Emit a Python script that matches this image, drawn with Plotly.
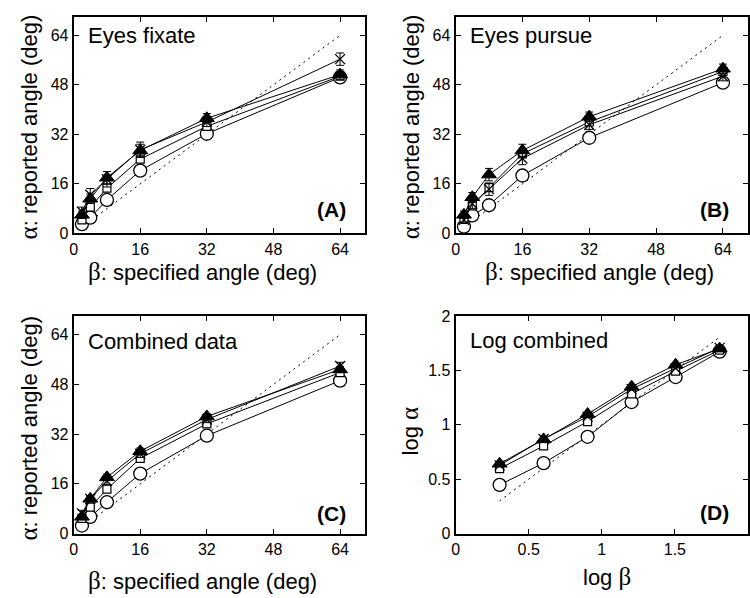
import plotly.graph_objects as go

# ---------------- data ----------------
beta = [2, 4, 8, 16, 32, 64]
log_beta = [0.301, 0.602, 0.903, 1.204, 1.505, 1.806]

# Panel A: eyes fixate
A_circle = [3.0, 5.1, 10.8, 20.3, 32.2, 50.4]
A_square = [4.4, 8.5, 14.6, 24.0, 34.6, 50.8]
A_cross = [7.0, 12.5, 17.5, 27.0, 36.0, 56.3]
A_cross_err = [1.5, 2.0, 2.5, 2.5, 1.5, 2.0]
A_tri = [6.0, 11.2, 18.0, 26.8, 37.2, 51.3]
A_tri_err = [1.2, 1.5, 2.0, 2.0, 1.5, 1.5]

# Panel B: eyes pursue
B_circle = [2.2, 5.8, 9.1, 18.7, 30.9, 48.7]
B_square = [4.9, 8.9, 14.8, 25.7, 36.0, 52.3]
B_cross = [4.4, 9.6, 14.3, 24.2, 35.1, 50.8]
B_cross_err = [1.2, 1.5, 2.0, 2.0, 1.5, 1.5]
B_tri = [6.0, 11.7, 19.0, 26.8, 37.7, 53.2]
B_tri_err = [1.2, 1.5, 2.0, 2.0, 1.5, 1.5]

# Panel C: combined data
C_circle = [2.6, 5.4, 10.1, 19.3, 31.5, 49.2]
C_square = [4.9, 8.5, 14.3, 24.2, 35.3, 51.8]
C_cross = [6.5, 11.2, 16.9, 25.7, 36.7, 53.9]
C_cross_err = [1.0, 1.0, 1.2, 1.2, 1.0, 1.2]
C_tri = [5.4, 11.2, 18.1, 26.5, 37.7, 52.8]
C_tri_err = [0.8, 0.8, 1.0, 1.0, 0.8, 1.0]

# Panel D: log combined
D_circle = [0.448, 0.648, 0.89, 1.209, 1.439, 1.672]
D_square = [0.597, 0.806, 1.03, 1.284, 1.493, 1.687]
D_cross = [0.627, 0.87, 1.075, 1.328, 1.52, 1.707]
D_tri = [0.642, 0.866, 1.099, 1.35, 1.552, 1.70]

lin_ticks = [0, 16, 32, 48, 64]
log_ticks = [0, 0.5, 1, 1.5, 2]
log_ticklabels = ["0", "0.5", "1", "1.5", "2"]

panel_titles = ["Eyes fixate", "Eyes pursue", "Combined data", "Log combined"]
panel_letters = ["(A)", "(B)", "(C)", "(D)"]

# ---------------- figure ----------------
FONT = "Liberation Sans, Arial, sans-serif"
SERIF = "Liberation Serif, Times New Roman, serif"
fig = go.Figure()

panels = [
    dict(xa="x", ya="y", x=beta, circ=A_circle, sq=A_square, cr=A_cross, cre=A_cross_err, tr=A_tri, tre=A_tri_err, ident=beta),
    dict(xa="x2", ya="y2", x=beta, circ=B_circle, sq=B_square, cr=B_cross, cre=B_cross_err, tr=B_tri, tre=B_tri_err, ident=beta),
    dict(xa="x3", ya="y3", x=beta, circ=C_circle, sq=C_square, cr=C_cross, cre=C_cross_err, tr=C_tri, tre=C_tri_err, ident=beta),
    dict(xa="x4", ya="y4", x=log_beta, circ=D_circle, sq=D_square, cr=D_cross, cre=None, tr=D_tri, tre=None, ident=log_beta),
]

for p in panels:
    fig.add_trace(go.Scatter(x=p["ident"], y=p["ident"], mode="lines",
                             line=dict(color="black", width=1, dash="2px,4px"),
                             xaxis=p["xa"], yaxis=p["ya"], showlegend=False))
    fig.add_trace(go.Scatter(x=p["x"], y=p["circ"], mode="lines+markers",
                             line=dict(color="black", width=1),
                             marker=dict(symbol="circle", size=13, color="white",
                                         line=dict(color="black", width=1.3)),
                             xaxis=p["xa"], yaxis=p["ya"], showlegend=False))
    fig.add_trace(go.Scatter(x=p["x"], y=p["sq"], mode="lines+markers",
                             line=dict(color="black", width=1),
                             marker=dict(symbol="square", size=8, color="white",
                                         line=dict(color="black", width=1.2)),
                             xaxis=p["xa"], yaxis=p["ya"], showlegend=False))
    fig.add_trace(go.Scatter(x=p["x"], y=p["cr"], mode="lines+markers",
                             line=dict(color="black", width=1),
                             marker=dict(symbol="x-thin-open", size=10, color="black",
                                         line=dict(color="black", width=1.3)),
                             error_y=(dict(type="data", array=p["cre"], color="black",
                                           thickness=1, width=4) if p["cre"] else None),
                             xaxis=p["xa"], yaxis=p["ya"], showlegend=False))
    fig.add_trace(go.Scatter(x=p["x"], y=p["tr"], mode="lines+markers",
                             line=dict(color="black", width=1),
                             marker=dict(symbol="triangle-up", size=13, color="black",
                                         line=dict(color="black", width=1)),
                             error_y=(dict(type="data", array=p["tre"], color="black",
                                           thickness=1, width=4) if p["tre"] else None),
                             xaxis=p["xa"], yaxis=p["ya"], showlegend=False))

axis_common = dict(showline=True, linecolor="black", linewidth=2, mirror="ticks",
                   ticks="inside", ticklen=5, tickcolor="black", tickwidth=1,
                   showgrid=False, zeroline=False,
                   tickfont=dict(family=FONT, size=16, color="black"))

xdom_left = [70 / 750, 363 / 750]
xdom_right = [454 / 750, 748 / 750]
ydom_top = [1 - 232 / 598, 1 - 9 / 598]
ydom_bot = [1 - 541 / 598, 1 - 317 / 598]

layout = dict(
    width=750, height=598,
    margin=dict(l=0, r=0, t=0, b=0),
    paper_bgcolor="white", plot_bgcolor="white",
    font=dict(family=FONT, color="black"),
    showlegend=False,
)
for i, (xd, yd) in enumerate([(xdom_left, ydom_top), (xdom_right, ydom_top),
                              (xdom_left, ydom_bot), (xdom_right, ydom_bot)]):
    n = "" if i == 0 else str(i + 1)
    if i < 3:
        xr, yr = [0, 70], [0, 70]
        xt = dict(tickvals=lin_ticks)
        yt = dict(tickvals=lin_ticks)
    else:
        xr, yr = [0, 2], [0, 2]
        xt = dict(tickvals=log_ticks, ticktext=log_ticklabels)
        yt = dict(tickvals=log_ticks, ticktext=log_ticklabels)
    layout["xaxis" + n] = dict(axis_common, domain=xd, range=xr, anchor="y" + n, **xt)
    layout["yaxis" + n] = dict(axis_common, domain=yd, range=yr, anchor="x" + n, **yt)

fig.update_layout(**layout)

# panel titles / letters
title_pos = [(82, 28), (466, 28), (82, 343), (466, 342)]
letter_pos = [(346, 207), (731, 207), (346, 520), (731, 519)]
for t, (px, py) in zip(panel_titles, title_pos):
    fig.add_annotation(text=t, x=px / 750, y=1 - py / 598, xref="paper", yref="paper",
                       xanchor="left", yanchor="middle", showarrow=False,
                       font=dict(family=FONT, size=22, color="black"))
for t, (px, py) in zip(panel_letters, letter_pos):
    fig.add_annotation(text="<b>" + t + "</b>", x=px / 750, y=1 - py / 598,
                       xref="paper", yref="paper",
                       xanchor="right", yanchor="middle", showarrow=False,
                       font=dict(family=FONT, size=21, color="black"))

# axis titles
alpha = "<span style='font-family:" + SERIF + ";font-size:25px'>α</span>"
beta_s = "<span style='font-family:" + SERIF + ";font-size:25px'>β</span>"
xlab = beta_s + ": specified angle (deg)"
ylab = alpha + ": reported angle (deg)"
for (cx, cy) in [(200, 271), (599, 271), (200, 589)]:
    fig.add_annotation(text=xlab, x=cx / 750, y=1 - cy / 598, xref="paper", yref="paper",
                       xanchor="center", yanchor="middle", showarrow=False,
                       font=dict(family=FONT, size=22, color="black"))
for (cx, cy) in [(25, 122), (409, 122), (25, 432)]:
    fig.add_annotation(text=ylab, x=cx / 750, y=1 - cy / 598, xref="paper", yref="paper",
                       xanchor="center", yanchor="middle", showarrow=False, textangle=-90,
                       font=dict(family=FONT, size=22, color="black"))
fig.add_annotation(text="log " + beta_s, x=606 / 750, y=1 - 585 / 598, xref="paper", yref="paper",
                   xanchor="center", yanchor="middle", showarrow=False,
                   font=dict(family=FONT, size=22, color="black"))
fig.add_annotation(text="log " + alpha, x=408 / 750, y=1 - 435 / 598, xref="paper", yref="paper",
                   xanchor="center", yanchor="middle", showarrow=False, textangle=-90,
                   font=dict(family=FONT, size=22, color="black"))

fig.write_html("out.html")
